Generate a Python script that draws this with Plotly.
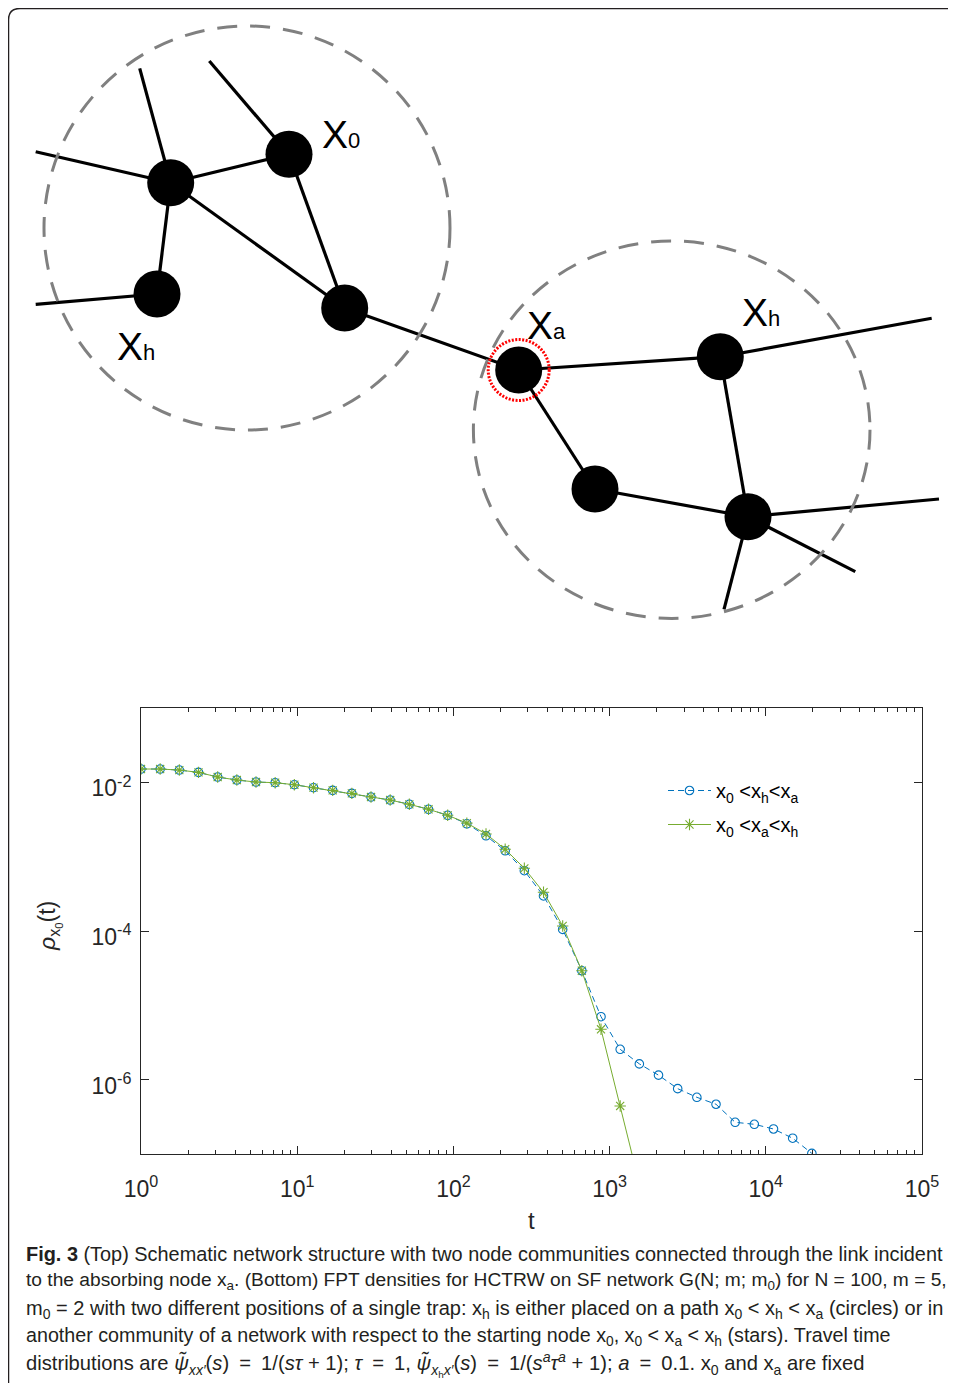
import plotly.graph_objects as go

# page offset: the browser body adds an 8px margin, so the figure is 948x1375
OX, OY = 8, 8
PW, PH = 948, 1375


def fx(X):
    return (X - OX) / PW


def fy(Y):
    return 1 - (Y - OY) / PH


# ---------------- data: FPT densities ----------------
t_values = [1.0, 1.3265, 1.7596, 2.3341, 3.0962, 4.1071, 5.4481, 7.2270, 9.5866, 12.717,
            16.869, 22.377, 29.683, 39.374, 52.230, 69.284, 91.906, 121.91, 161.72, 214.52,
            284.56, 377.47, 500.71, 664.2, 881.1, 1168.7, 1550.3, 2056.5, 2728.0, 3618.7,
            4800.0, 6367.0, 8446.0, 11204.0, 14862.0, 19715.0]

rho_circles = [0.01510, 0.01510, 0.01462, 0.01361, 0.01178, 0.01074, 0.01009, 0.00989, 0.00929, 0.00847,
               0.00780, 0.00711, 0.00634, 0.00578, 0.00506, 0.00434, 0.00360, 0.00277, 0.00191, 0.00120,
               6.47e-4, 2.96e-4, 1.05e-4, 2.92e-5, 7.03e-6, 2.56e-6, 1.63e-6, 1.15e-6, 7.57e-7, 5.79e-7,
               4.67e-7, 2.67e-7, 2.51e-7, 2.17e-7, 1.63e-7, 1.02e-7]

rho_stars = [0.01510, 0.01510, 0.01462, 0.01361, 0.01178, 0.01074, 0.01009, 0.00989, 0.00929, 0.00847,
             0.00780, 0.00711, 0.00634, 0.00578, 0.00506, 0.00434, 0.00360, 0.00283, 0.00202, 0.00126,
             6.97e-4, 3.32e-4, 1.17e-4, 2.92e-5, 4.76e-6, 4.43e-7, 4.0e-8]

legend_circles = "x<sub>0</sub> &lt;x<sub>h</sub>&lt;x<sub>a</sub>"
legend_stars = "x<sub>0</sub> &lt;x<sub>a</sub>&lt;x<sub>h</sub>"

x_tickvals = [1, 10, 100, 1000, 10000, 100000]
x_ticktext = ["10<sup>0</sup>", "10<sup>1</sup>", "10<sup>2</sup>", "10<sup>3</sup>", "10<sup>4</sup>", "10<sup>5</sup>"]
x_minor = [m * 10 ** k for k in range(5) for m in range(2, 10)]
y_tickvals = [1e-2, 1e-4, 1e-6]
y_ticktext = ["10<sup>-2</sup>", "10<sup>-4</sup>", "10<sup>-6</sup>"]

# ---------------- data: schematic network (reference pixel coordinates) ----------------
node_names = ["hubL", "x0", "xhL", "bridgeL", "xa", "xhR", "lowR", "hubR"]
node_x = [170.7, 289.0, 157.0, 344.7, 518.7, 720.3, 595.0, 748.0]
node_y = [182.7, 154.3, 294.0, 308.0, 370.0, 356.7, 489.0, 516.7]
edges = [("hubL", "x0"), ("hubL", "xhL"), ("hubL", "bridgeL"), ("x0", "bridgeL"),
         ("bridgeL", "xa"), ("xa", "xhR"), ("xa", "lowR"), ("lowR", "hubR"), ("xhR", "hubR")]
stub_from = ["hubL", "x0", "hubL", "xhL", "xhR", "hubR", "hubR", "hubR"]
stub_end_x = [139.7, 209.3, 35.7, 35.7, 931.7, 939.0, 855.3, 724.0]
stub_end_y = [68.3, 61.0, 151.7, 304.3, 318.3, 499.0, 571.7, 609.3]
communities_cx = [247.0, 671.7]
communities_cy = [228.0, 429.7]
communities_rx = [203.0, 198.3]
communities_ry = [202.0, 188.7]
labels_text = ["X<span style='font-size:22px'>0</span>", "X<span style='font-size:22px'>h</span>",
               "X<span style='font-size:22px'>a</span>", "X<span style='font-size:22px'>h</span>"]
labels_x = [320.0, 115.0, 525.0, 740.0]
labels_y = [134.0, 346.0, 325.0, 312.0]

EQ = "\u2002=\u2002"
caption_lines = [
    "<b>Fig. 3</b> (Top) Schematic network structure with two node communities connected through the link incident",
    "to the absorbing node x<sub>a</sub>. (Bottom) FPT densities for HCTRW on SF network G(N; m; m<sub>0</sub>) for N = 100, m = 5,",
    "m<sub>0</sub> = 2 with two different positions of a single trap: x<sub>h</sub> is either placed on a path x<sub>0</sub> &lt; x<sub>h</sub> &lt; x<sub>a</sub> (circles) or in",
    "another community of a network with respect to the starting node x<sub>0</sub>, x<sub>0</sub> &lt; x<sub>a</sub> &lt; x<sub>h</sub> (stars). Travel time",
    "distributions are <i>ψ̃</i><sub><i>xx′</i></sub>(<i>s</i>)" + EQ + "1/(<i>sτ</i> + 1); <i>τ</i>" + EQ
    + "1, <i>ψ̃</i><sub><i>x</i><sub>h</sub><i>x′</i></sub>(<i>s</i>)" + EQ
    + "1/(<i>s</i><sup><i>a</i></sup><i>τ</i><sup><i>a</i></sup> + 1); <i>a</i>" + EQ
    + "0.1. x<sub>0</sub> and x<sub>a</sub> are fixed",
]
caption_y = [1254, 1281, 1309, 1336, 1364]
caption_size = [19.9, 19.2, 20.0, 19.7, 20.2]

# ---------------- figure ----------------
BLUE = "#0072BD"
GREEN = "#77AC30"
AX = "#262626"
FONT = "Liberation Sans, Arial, sans-serif"

fig = go.Figure()

# schematic on a pixel-space overlay axis
idx = {n: i for i, n in enumerate(node_names)}
ex, ey = [], []
for a, b in edges:
    ex += [node_x[idx[a]], node_x[idx[b]], None]
    ey += [node_y[idx[a]], node_y[idx[b]], None]
for s, px, py in zip(stub_from, stub_end_x, stub_end_y):
    ex += [node_x[idx[s]], px, None]
    ey += [node_y[idx[s]], py, None]
fig.add_trace(go.Scatter(x=ex, y=ey, mode="lines", line=dict(color="black", width=3.2),
                         xaxis="x2", yaxis="y2", showlegend=False, hoverinfo="skip"))
fig.add_trace(go.Scatter(x=node_x, y=node_y, mode="markers",
                         marker=dict(size=47, color="black", line=dict(width=0)),
                         xaxis="x2", yaxis="y2", showlegend=False, hoverinfo="skip"))

# data traces
fig.add_trace(go.Scatter(x=t_values, y=rho_circles, mode="lines+markers", name=legend_circles,
                         legendgroup="g1",
                         line=dict(color=BLUE, width=1, dash="6px,4px"),
                         marker=dict(symbol="circle-open", size=8.5, color=BLUE, line=dict(width=1.1))))
fig.add_trace(go.Scatter(x=t_values[:len(rho_stars)], y=rho_stars, mode="lines+markers", name=legend_stars,
                         legendgroup="g2",
                         line=dict(color=GREEN, width=1),
                         marker=dict(symbol="asterisk-open", size=9.5, color=GREEN, line=dict(width=1.1, color=GREEN))))

shapes = []
for cx, cy, rx, ry in zip(communities_cx, communities_cy, communities_rx, communities_ry):
    shapes.append(dict(type="circle", xref="x2", yref="y2", x0=cx - rx, x1=cx + rx, y0=cy - ry, y1=cy + ry,
                       line=dict(color="#808080", width=3, dash="20px,13px"), layer="above"))
xa_i = idx["xa"]
shapes.append(dict(type="circle", xref="x2", yref="y2",
                   x0=node_x[xa_i] - 30.5, x1=node_x[xa_i] + 30.5,
                   y0=node_y[xa_i] - 30.5, y1=node_y[xa_i] + 30.5,
                   line=dict(color="#FF0000", width=3, dash="2px,1.5px"), layer="above"))
# outer frame (rounded corner)
shapes.append(dict(type="path", xref="x2", yref="y2",
                   path="M 8.5 1400 L 8.5 20 Q 8.5 8.5 20 8.5 L 1000 8.5",
                   line=dict(color="#231F20", width=1.5)))

annotations = []
for txt, lx, ly in zip(labels_text, labels_x, labels_y):
    annotations.append(dict(xref="x2", yref="y2", x=lx, y=ly, text=txt, showarrow=False,
                            xanchor="left", yanchor="middle", font=dict(family=FONT, size=39, color="black")))

for txt, cy, sz in zip(caption_lines, caption_y, caption_size):
    annotations.append(dict(xref="paper", yref="paper", x=fx(24), y=fy(cy), text=txt, showarrow=False,
                            xanchor="left", yanchor="middle",
                            font=dict(family=FONT, size=sz, color="#231F20")))

# axis titles
annotations.append(dict(xref="paper", yref="paper", x=fx(531), y=fy(1220), text="t", showarrow=False,
                        xanchor="center", yanchor="middle", font=dict(family=FONT, size=24, color=AX)))
annotations.append(dict(xref="paper", yref="paper", x=fx(50), y=fy(926),
                        text="<i>ρ</i><sub>x<sub>0</sub></sub>(t)", showarrow=False, textangle=-90,
                        xanchor="center", yanchor="middle", font=dict(family=FONT, size=23, color=AX)))

fig.update_layout(
    width=PW, height=PH, margin=dict(l=0, r=0, t=0, b=0, autoexpand=False),
    paper_bgcolor="white", plot_bgcolor="rgba(0,0,0,0)",
    shapes=shapes, annotations=annotations,
    legend=dict(x=fx(663), y=fy(771), xanchor="left", yanchor="top",
                bgcolor="rgba(0,0,0,0)", borderwidth=0, traceorder="grouped", itemwidth=43,
                font=dict(family=FONT, size=20, color="black"), tracegroupgap=5),
    xaxis=dict(domain=[fx(141), fx(922)], anchor="y", type="log", range=[0, 5], automargin=False,
               tickmode="array", tickvals=x_tickvals, ticktext=x_ticktext,
               ticks="inside", ticklen=8, tickwidth=1, tickcolor=AX,
               minor=dict(tickmode="array", tickvals=x_minor, ticks="inside", ticklen=4, tickcolor=AX, showgrid=False),
               showline=True, linecolor=AX, linewidth=1, mirror="ticks",
               showgrid=False, zeroline=False, ticklabelstandoff=14,
               tickfont=dict(family=FONT, size=23, color=AX)),
    yaxis=dict(domain=[fy(1154), fy(708)], anchor="x", type="log", range=[-7, -1], automargin=False,
               tickmode="array", tickvals=y_tickvals, ticktext=y_ticktext,
               ticks="inside", ticklen=8, tickwidth=1, tickcolor=AX,
               showline=True, linecolor=AX, linewidth=1, mirror="ticks",
               showgrid=False, zeroline=False, ticklabelstandoff=4, ticklabelshift=6,
               tickfont=dict(family=FONT, size=23, color=AX)),
    xaxis2=dict(domain=[0, 1], anchor="y2", range=[OX, OX + PW], visible=False, fixedrange=True, automargin=False),
    yaxis2=dict(domain=[0, 1], anchor="x2", range=[OY + PH, OY], visible=False, fixedrange=True, automargin=False),
)

fig.write_html("out.html")
